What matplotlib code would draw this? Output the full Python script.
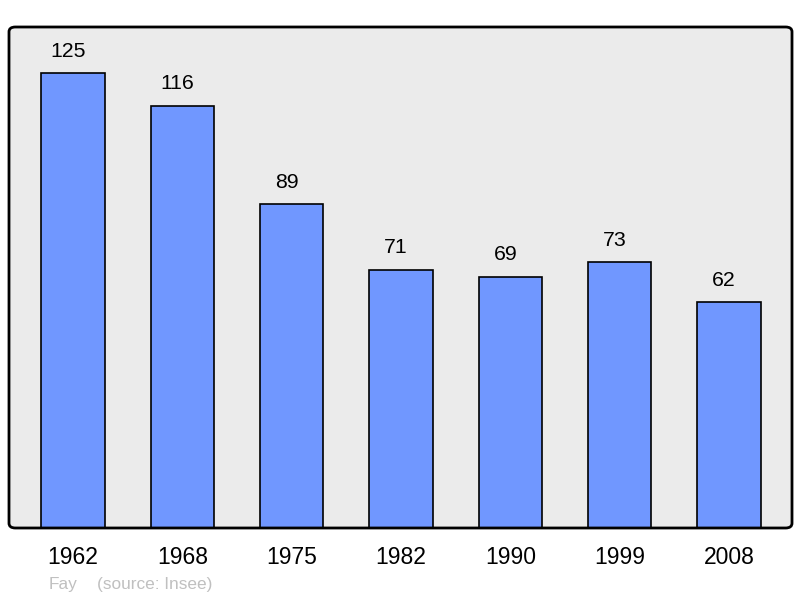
import matplotlib
matplotlib.use("Agg")
import matplotlib.pyplot as plt
from matplotlib.patches import FancyBboxPatch

years = ["1962", "1968", "1975", "1982", "1990", "1999", "2008"]
population = [125, 116, 89, 71, 69, 73, 62]
commune = "Fay"
source = "(source: Insee)"

plt.rcParams['font.family'] = ['Liberation Sans', 'DejaVu Sans']

fig = plt.figure(figsize=(8, 5.98), dpi=100)
L, R, B, T = 9/800, 792/800, 1-528/598, 1-27/598
ax = fig.add_axes([L, B, R-L, T-B])
ax.set_facecolor('none')
ax.set_zorder(1)
for s in ax.spines.values():
    s.set_visible(False)

bg = FancyBboxPatch((L, B), R-L, T-B, boxstyle="round,pad=0,rounding_size=0.008",
                    transform=fig.transFigure, facecolor='#ebebeb', edgecolor='none',
                    zorder=-1)
fig.patches.append(bg)

x = list(range(len(years)))
bars = ax.bar(x, population, width=0.578, color='#7097ff', edgecolor='black', linewidth=1.2, zorder=2)
for xi, v in zip(x, population):
    ax.annotate(str(v), (xi, v), xytext=(-3.5, 9), textcoords='offset points',
                ha='center', va='bottom', fontsize=15.3, color='black')

frame = FancyBboxPatch((L, B), R-L, T-B, boxstyle="round,pad=0,rounding_size=0.008",
                       transform=fig.transFigure, facecolor='none', edgecolor='black',
                       linewidth=2, zorder=5)
fig.patches.append(frame)

ax.set_xlim(-0.586, 6.576)
ax.set_ylim(0, 137.7)
ax.set_yticks([])
ax.set_xticks(x)
ax.set_xticklabels(years, fontsize=16.5)
ax.tick_params(axis='x', length=0, pad=13)

fig.text(49/800, 1-585/598, commune, fontsize=12.4, color='#c0c0c0', va='center', ha='left')
fig.text(97/800, 1-585/598, source, fontsize=12.4, color='#c0c0c0', va='center', ha='left')

fig.savefig('out.png', dpi=100)
